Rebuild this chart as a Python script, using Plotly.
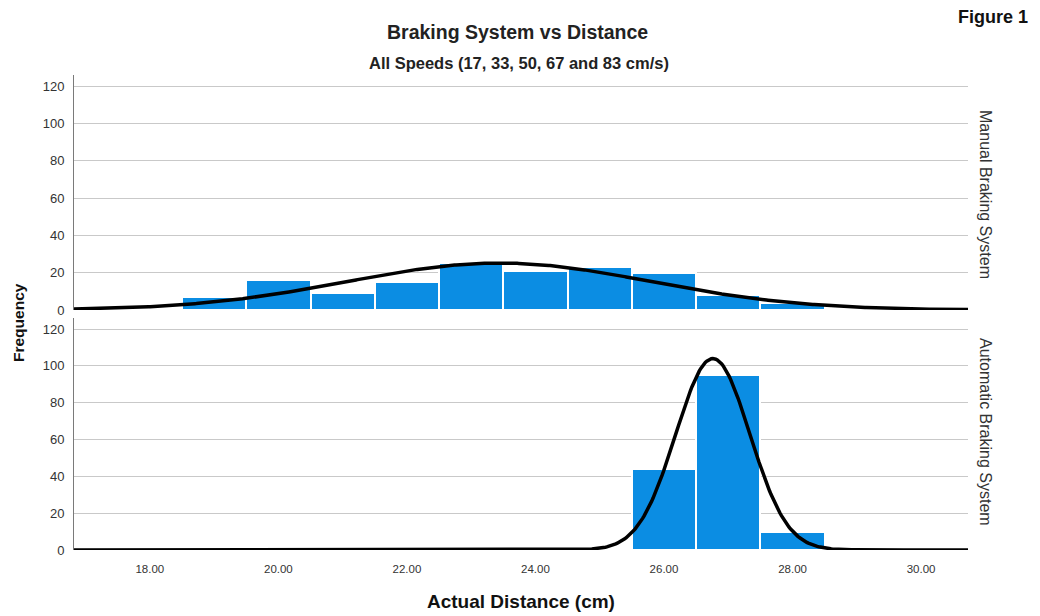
import numpy as np
import plotly.graph_objects as go

# ---- data ----
bin_centers = [18, 19, 20, 21, 22, 23, 24, 25, 26, 27, 28]
manual_counts = [1, 7, 16, 9, 15, 25, 21, 23, 20, 8, 4]
automatic_counts = [0, 0, 0, 0, 0, 0, 0, 1, 44, 95, 10]
x_tick_vals = [18, 20, 22, 24, 26, 28, 30]
x_tick_text = ["18.00", "20.00", "22.00", "24.00", "26.00", "28.00", "30.00"]
y_tick_vals = [0, 20, 40, 60, 80, 100, 120]
panel_labels = ["Manual Braking System", "Automatic Braking System"]

BIN_W = 1.0
X_RANGE = [16.82, 30.73]
BAR_COLOR = "#0b8de3"
FONT = "Liberation Sans, Arial"

# page body has an 8px margin: figure is drawn from screen (8, 8)
OFF = 8
W, H = 1040 - OFF, 616 - OFF
# screen-space plot box: left 74, right 968, top 75, bottom 550
L, R, T, B = 74 - OFF, W - (968 - OFF), 75 - OFF, H - (550 - OFF)
PW, PH = W - L - R, H - T - B


def px(xs):  # screen x -> paper
    return (xs - OFF - L) / PW


def py(ys):  # screen y -> paper
    return (H - B - (ys - OFF)) / PH


def normal_curve(centers, counts):
    c = np.array(centers, float)
    n = np.array(counts, float)
    N = n.sum()
    mu = (c * n).sum() / N
    sd = np.sqrt((n * (c - mu) ** 2).sum() / (N - 1))
    xs = np.linspace(X_RANGE[0], X_RANGE[1], 600)
    ys = N * BIN_W / (sd * np.sqrt(2 * np.pi)) * np.exp(-0.5 * ((xs - mu) / sd) ** 2)
    return xs, ys


fig = go.Figure()

for counts, xa, ya in [(manual_counts, "x", "y"), (automatic_counts, "x2", "y2")]:
    fig.add_trace(go.Bar(
        x=bin_centers, y=counts, width=BIN_W,
        marker=dict(color=BAR_COLOR, line=dict(color="white", width=2)),
        xaxis=xa, yaxis=ya, showlegend=False, hoverinfo="x+y"))
    xs, ys = normal_curve(bin_centers, counts)
    fig.add_trace(go.Scatter(
        x=xs, y=ys, mode="lines", line=dict(color="black", width=3.5),
        xaxis=xa, yaxis=ya, showlegend=False, hoverinfo="skip", cliponaxis=False))

top_dom = [py(310), 1.0]
bot_dom = [0.0, py(318)]

yaxis_common = dict(
    range=[0, 126], tickvals=y_tick_vals, showgrid=True, gridcolor="#c9c9c9",
    gridwidth=1.2, showline=True, linecolor="#7a7a7a", linewidth=1,
    zeroline=False, ticks="", ticklabelstandoff=6,
    tickfont=dict(family=FONT, size=13, color="#333333"),
)

fig.update_layout(
    width=W, height=H, margin=dict(l=L, r=R, t=T, b=B, autoexpand=False),
    paper_bgcolor="white", plot_bgcolor="white", bargap=0,
    xaxis=dict(domain=[0, 1], range=X_RANGE, anchor="y", showticklabels=False,
               showgrid=False, zeroline=False, showline=False, ticks=""),
    xaxis2=dict(domain=[0, 1], range=X_RANGE, anchor="y2", matches="x",
                tickvals=x_tick_vals, ticktext=x_tick_text, showgrid=False,
                zeroline=False, showline=False, ticks="", ticklabelstandoff=10,
                tickfont=dict(family=FONT, size=11.5, color="#333333")),
    yaxis=dict(domain=top_dom, anchor="x", **yaxis_common),
    yaxis2=dict(domain=bot_dom, anchor="x2", **yaxis_common),
)

ann = [
    dict(text="<b>Braking System vs Distance</b>", x=px(517), y=py(32),
         font=dict(family=FONT, size=19.5, color="#222222")),
    dict(text="<b>All Speeds (17, 33, 50, 67 and 83 cm/s)</b>", x=px(519), y=py(63),
         font=dict(family=FONT, size=16.5, color="#222222")),
    dict(text="<b>Figure 1</b>", x=px(993), y=py(17),
         font=dict(family=FONT, size=18, color="#111111")),
    dict(text=panel_labels[0], x=px(986), y=py(194), textangle=90,
         font=dict(family=FONT, size=16, color="#333333")),
    dict(text=panel_labels[1], x=px(986), y=py(432), textangle=90,
         font=dict(family=FONT, size=16, color="#333333")),
    dict(text="<b>Frequency</b>", x=px(18), y=py(323), textangle=-90,
         font=dict(family=FONT, size=15.5, color="#111111")),
    dict(text="<b>Actual Distance (cm)</b>", x=px(521), y=py(601),
         font=dict(family=FONT, size=19, color="#111111")),
]
for a in ann:
    a.update(xref="paper", yref="paper", showarrow=False, xanchor="center", yanchor="middle")
fig.update_layout(annotations=ann)

fig.write_html("out.html")
